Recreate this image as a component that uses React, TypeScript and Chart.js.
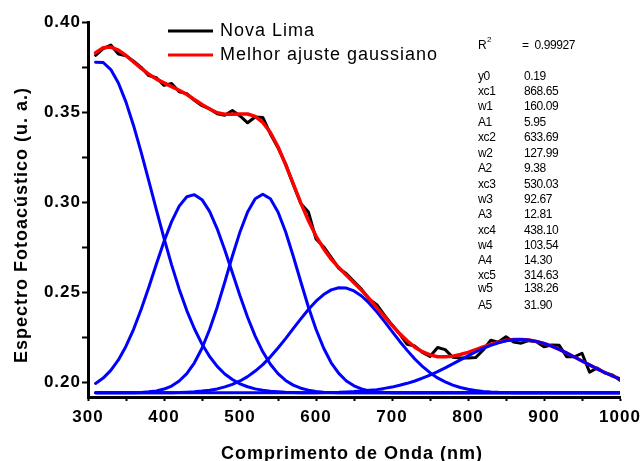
import React, { useEffect, useRef } from 'react';
import { Chart, registerables } from 'chart.js';

Chart.register(...registerables);

// ---------- data ----------
const WAVELENGTH = [
  310, 320, 330, 340, 350, 360, 370, 380, 390, 400,
  410, 420, 430, 440, 450, 460, 470, 480, 490, 500,
  510, 520, 530, 540, 550, 560, 570, 580, 590, 600,
  610, 620, 630, 640, 650, 660, 670, 680, 690, 700,
  710, 720, 730, 740, 750, 760, 770, 780, 790, 800,
  810, 820, 830, 840, 850, 860, 870, 880, 890, 900,
  910, 920, 930, 940, 950, 960, 970, 980, 990, 1000,
];

const NOVA_LIMA = [
  0.3815, 0.3852, 0.3872, 0.3822, 0.3812, 0.3782, 0.3748, 0.3702, 0.3690, 0.3648,
  0.3658, 0.3612, 0.3602, 0.3565, 0.3535, 0.3518, 0.3490, 0.3482, 0.3508, 0.3478,
  0.3440, 0.3472, 0.3470, 0.3378, 0.3302, 0.3212, 0.3098, 0.2992, 0.2945, 0.2795,
  0.2752, 0.2692, 0.2632, 0.2602, 0.2558, 0.2515, 0.2460, 0.2430, 0.2372, 0.2318,
  0.2268, 0.2210, 0.2200, 0.2165, 0.2142, 0.2192, 0.2180, 0.2138, 0.2133, 0.2133,
  0.2136, 0.2178, 0.2232, 0.2222, 0.2252, 0.2222, 0.2216, 0.2230, 0.2224, 0.2196,
  0.2206, 0.2204, 0.2140, 0.2140, 0.2160, 0.2055, 0.2078, 0.2050, 0.2040, 0.2010,
];

const GAUSS_FIT = [
  0.3829, 0.3857, 0.3861, 0.3844, 0.3814, 0.3778, 0.3742, 0.3710, 0.3683, 0.3662,
  0.3641, 0.3621, 0.3597, 0.3570, 0.3542, 0.3517, 0.3496, 0.3488, 0.3488, 0.3489,
  0.3489, 0.3476, 0.3442, 0.3386, 0.3307, 0.3208, 0.3102, 0.2995, 0.2897, 0.2811,
  0.2741, 0.2683, 0.2636, 0.2593, 0.2552, 0.2510, 0.2463, 0.2414, 0.2365, 0.2315,
  0.2269, 0.2229, 0.2194, 0.2169, 0.2151, 0.2141, 0.2140, 0.2144, 0.2153, 0.2165,
  0.2180, 0.2195, 0.2209, 0.2221, 0.2231, 0.2236, 0.2237, 0.2234, 0.2226, 0.2215,
  0.2200, 0.2181, 0.2161, 0.2139, 0.2117, 0.2095, 0.2073, 0.2053, 0.2034, 0.2017,
];

const PEAK_1 = [
  0.194, 0.194, 0.194, 0.194, 0.194, 0.194, 0.194, 0.194, 0.194, 0.194,
  0.194, 0.194, 0.194, 0.194, 0.194, 0.194, 0.194, 0.194, 0.194, 0.194,
  0.194, 0.194, 0.194, 0.194, 0.194, 0.194, 0.194, 0.1940, 0.1941, 0.1941,
  0.1942, 0.1942, 0.1943, 0.1945, 0.1947, 0.1950, 0.1954, 0.1958, 0.1965, 0.1972,
  0.1982, 0.1993, 0.2006, 0.2022, 0.2039, 0.2058, 0.2079, 0.2101, 0.2123, 0.2145,
  0.2167, 0.2187, 0.2204, 0.2218, 0.2229, 0.2235, 0.2237, 0.2234, 0.2226, 0.2215,
  0.2200, 0.2181, 0.2161, 0.2139, 0.2117, 0.2095, 0.2073, 0.2053, 0.2034, 0.2017,
];

const PEAK_2 = [
  0.194, 0.194, 0.194, 0.194, 0.194, 0.194, 0.194, 0.194, 0.194, 0.1941,
  0.1941, 0.1942, 0.1944, 0.1946, 0.1950, 0.1955, 0.1962, 0.1973, 0.1987, 0.2006,
  0.2030, 0.2061, 0.2097, 0.2140, 0.2189, 0.2241, 0.2297, 0.2351, 0.2403, 0.2449,
  0.2486, 0.2512, 0.2524, 0.2522, 0.2506, 0.2478, 0.2438, 0.2390, 0.2337, 0.2282,
  0.2227, 0.2176, 0.2128, 0.2087, 0.2052, 0.2023, 0.2001, 0.1983, 0.1970, 0.1960,
  0.1953, 0.1948, 0.1945, 0.1943, 0.1942, 0.1941, 0.194, 0.194, 0.194, 0.194,
  0.194, 0.194, 0.194, 0.194, 0.194, 0.194, 0.194, 0.194, 0.194, 0.194,
];

const PEAK_3 = [
  0.194, 0.194, 0.194, 0.194, 0.194, 0.1941, 0.1942, 0.1946, 0.1951, 0.1961,
  0.1978, 0.2006, 0.2047, 0.2107, 0.2188, 0.2292, 0.2416, 0.2556, 0.2700, 0.2834,
  0.2945, 0.3018, 0.3043, 0.3018, 0.2945, 0.2835, 0.2700, 0.2557, 0.2417, 0.2293,
  0.2189, 0.2107, 0.2048, 0.2006, 0.1979, 0.1962, 0.1951, 0.1946, 0.1943, 0.1941,
  0.194, 0.194, 0.194, 0.194, 0.194, 0.194, 0.194, 0.194, 0.194, 0.194,
  0.194, 0.194, 0.194, 0.194, 0.194, 0.194, 0.194, 0.194, 0.194, 0.194,
  0.194, 0.194, 0.194, 0.194, 0.194, 0.194, 0.194, 0.194, 0.194, 0.194,
];

const PEAK_4 = [
  0.1992, 0.2022, 0.2065, 0.2123, 0.2199, 0.2293, 0.2404, 0.2527, 0.2656, 0.2781,
  0.2891, 0.2977, 0.3029, 0.3041, 0.3013, 0.2948, 0.2851, 0.2734, 0.2607, 0.2479,
  0.2360, 0.2255, 0.2168, 0.2099, 0.2047, 0.2009, 0.1983, 0.1966, 0.1955, 0.1948,
  0.1944, 0.1942, 0.1941, 0.194, 0.194, 0.194, 0.194, 0.194, 0.194, 0.194,
  0.194, 0.194, 0.194, 0.194, 0.194, 0.194, 0.194, 0.194, 0.194, 0.194,
  0.194, 0.194, 0.194, 0.194, 0.194, 0.194, 0.194, 0.194, 0.194, 0.194,
  0.194, 0.194, 0.194, 0.194, 0.194, 0.194, 0.194, 0.194, 0.194, 0.194,
];

const PEAK_5 = [
  0.3777, 0.3775, 0.3736, 0.3661, 0.3555, 0.3424, 0.3276, 0.3117, 0.2956, 0.2799,
  0.2651, 0.2516, 0.2397, 0.2296, 0.2211, 0.2142, 0.2087, 0.2045, 0.2014, 0.1990,
  0.1974, 0.1962, 0.1954, 0.1949, 0.1946, 0.1943, 0.1942, 0.1941, 0.1941, 0.194,
  0.194, 0.194, 0.194, 0.194, 0.194, 0.194, 0.194, 0.194, 0.194, 0.194,
  0.194, 0.194, 0.194, 0.194, 0.194, 0.194, 0.194, 0.194, 0.194, 0.194,
  0.194, 0.194, 0.194, 0.194, 0.194, 0.194, 0.194, 0.194, 0.194, 0.194,
  0.194, 0.194, 0.194, 0.194, 0.194, 0.194, 0.194, 0.194, 0.194, 0.194,
];

const X_TICKS = [300, 350, 400, 450, 500, 550, 600, 650, 700, 750, 800, 850, 900, 950, 1000];
const X_LABELED = [300, 400, 500, 600, 700, 800, 900, 1000];
const Y_TICKS = [0.2, 0.225, 0.25, 0.275, 0.3, 0.325, 0.35, 0.375, 0.4];
const Y_LABELED = [0.2, 0.25, 0.3, 0.35, 0.4];

const LEGEND_LABELS = ['Nova Lima', 'Melhor ajuste gaussiano'];
const R_SQUARED = '0.99927';
const PARAM_NAMES = ['y0', 'xc1', 'w1', 'A1', 'xc2', 'w2', 'A2', 'xc3', 'w3', 'A3', 'xc4', 'w4', 'A4', 'xc5', 'w5', 'A5'];
const PARAM_VALUES = ['0.19', '868.65', '160.09', '5.95', '633.69', '127.99', '9.38', '530.03', '92.67', '12.81', '438.10', '103.54', '14.30', '314.63', '138.26', '31.90'];

const X_TITLE = 'Comprimento de Onda (nm)';
const Y_TITLE = 'Espectro Fotoacústico (u. a.)';

// ---------- styling / layout ----------
const FONT = "'Liberation Sans', Arial, Helvetica, sans-serif";
const PARAM_ROW_Y = [77, 92, 107, 123, 138, 154, 169, 185, 200, 215, 231, 246, 261, 276, 289, 306];

const decorPlugin = {
  id: 'decor',
  beforeDraw(chart: any) {
    chart.ctx.letterSpacing = '1px';
  },
  afterDraw(chart: any) {
    const ctx: CanvasRenderingContext2D = chart.ctx;
    ctx.save();
    ctx.fillStyle = '#000';

    // legend
    const legendColors = ['#000000', '#ff0000'];
    const legendY = [31, 55];
    LEGEND_LABELS.forEach((label, i) => {
      ctx.strokeStyle = legendColors[i];
      ctx.lineWidth = 3;
      ctx.beginPath();
      ctx.moveTo(168, legendY[i]);
      ctx.lineTo(213, legendY[i]);
      ctx.stroke();
      (ctx as any).letterSpacing = '1px';
      ctx.font = `18px ${FONT}`;
      ctx.textAlign = 'left';
      ctx.textBaseline = 'middle';
      ctx.fillText(label, 220, legendY[i]);
    });

    // fit statistics
    (ctx as any).letterSpacing = '-0.4px';
    ctx.textBaseline = 'middle';
    ctx.textAlign = 'left';
    ctx.font = `12px ${FONT}`;
    ctx.fillText('R', 478, 46);
    ctx.font = `8px ${FONT}`;
    ctx.fillText('2', 487, 40);
    ctx.font = `12px ${FONT}`;
    ctx.fillText('=  ' + R_SQUARED, 522, 46);
    PARAM_NAMES.forEach((name, i) => {
      ctx.fillText(name, 478, PARAM_ROW_Y[i]);
      ctx.fillText(PARAM_VALUES[i], 524, PARAM_ROW_Y[i]);
    });

    // axis titles
    (ctx as any).letterSpacing = '1px';
    ctx.font = `bold 18px ${FONT}`;
    ctx.textAlign = 'center';
    ctx.textBaseline = 'alphabetic';
    ctx.fillText(X_TITLE, 352, 459);

    ctx.save();
    ctx.translate(27, 225);
    ctx.rotate(-Math.PI / 2);
    ctx.fillText(Y_TITLE, 0, 0);
    ctx.restore();

    ctx.restore();
  },
};

const near = (list: number[], v: number) => list.some((l) => Math.abs(l - v) < 1e-6);

export default function App() {
  const ref = useRef<HTMLCanvasElement>(null);

  useEffect(() => {
    const canvas = ref.current;
    if (!canvas) return;
    const pts = (ys: number[]) => WAVELENGTH.map((x, i) => ({ x, y: ys[i] }));
    const blue = (ys: number[], order: number) => ({
      label: 'peak',
      data: pts(ys),
      borderColor: '#0000ff',
      borderWidth: 3,
      order,
    });
    const tickFont = { family: FONT, size: 17, weight: 'bold' as const };

    const chart = new Chart(canvas, {
      type: 'line',
      data: {
        datasets: [
          blue(PEAK_1, 0),
          {
            label: LEGEND_LABELS[1],
            data: pts(GAUSS_FIT),
            borderColor: '#ff0000',
            borderWidth: 3.5,
            order: 1,
          },
          blue(PEAK_2, 2),
          blue(PEAK_3, 3),
          blue(PEAK_4, 4),
          blue(PEAK_5, 5),
          {
            label: LEGEND_LABELS[0],
            data: pts(NOVA_LIMA),
            borderColor: '#000000',
            borderWidth: 3,
            order: 6,
          },
        ],
      },
      options: {
        animation: false,
        responsive: false,
        devicePixelRatio: 1,
        layout: { padding: { top: 22, right: 22, left: 0, bottom: 0 } },
        elements: {
          point: { radius: 0, hoverRadius: 0 },
          line: { tension: 0, fill: false, borderJoinStyle: 'round', borderCapStyle: 'round' },
        },
        plugins: {
          legend: { display: false },
          tooltip: { enabled: false },
        },
        scales: {
          x: {
            type: 'linear',
            min: 300,
            max: 1000,
            afterBuildTicks: (s: any) => {
              s.ticks = X_TICKS.map((v) => ({ value: v }));
            },
            afterFit: (s: any) => {
              s.height = 64;
              s.paddingLeft = 0;
              s.paddingRight = 0;
            },
            ticks: {
              callback: (v: any) => (near(X_LABELED, Number(v)) ? String(v) : ''),
              font: tickFont,
              color: '#000',
              padding: 6,
              maxRotation: 0,
              autoSkip: false,
            },
            grid: {
              drawOnChartArea: false,
              drawTicks: true,
              tickLength: 4,
              tickColor: '#000',
              tickWidth: 2,
            },
            border: { display: true, color: '#000', width: 3 },
          },
          y: {
            type: 'linear',
            min: 0.1917,
            max: 0.4,
            afterBuildTicks: (s: any) => {
              s.ticks = Y_TICKS.map((v) => ({ value: v }));
            },
            afterFit: (s: any) => {
              s.width = 88;
            },
            ticks: {
              callback: (v: any) => (near(Y_LABELED, Number(v)) ? Number(v).toFixed(2) : ''),
              font: tickFont,
              color: '#000',
              padding: 1,
              autoSkip: false,
            },
            grid: {
              drawOnChartArea: false,
              drawTicks: true,
              tickLength: 6,
              tickColor: '#000',
              tickWidth: 2,
            },
            border: { display: true, color: '#000', width: 3 },
          },
        },
      } as any,
      plugins: [decorPlugin],
    });

    return () => chart.destroy();
  }, []);

  return (
    <div style={{ position: 'fixed', left: 0, top: 0, width: 642, height: 461, background: '#fff' }}>
      <canvas ref={ref} width={642} height={461} style={{ display: 'block', width: 642, height: 461 }} />
    </div>
  );
}
